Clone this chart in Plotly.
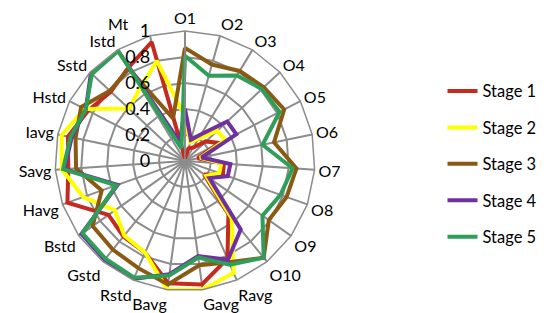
import plotly.graph_objects as go

# feature axes of the radar (clockwise from the top)
categories = ["O1", "O2", "O3", "O4", "O5", "O6", "O7", "O8", "O9", "O10",
              "Ravg", "Gavg", "Bavg", "Rstd", "Gstd", "Bstd",
              "Havg", "Savg", "Iavg", "Hstd", "Sstd", "Istd", "Mt"]

stage1 = [0.02, 0.10, 0.12, 0.22, 0.30, 0.10, 0.30, 0.31, 0.18, 0.53,
          0.82, 0.96, 0.95, 0.77, 0.75, 0.72,
          0.96, 0.90, 0.92, 0.84, 0.78, 0.84, 0.95]
stage2 = [0.34, 0.15, 0.20, 0.34, 0.35, 0.12, 0.28, 0.28, 0.20, 0.57,
          0.94, 1.00, 1.00, 0.77, 0.74, 0.66,
          0.83, 0.95, 0.97, 0.87, 0.59, 0.66, 0.80]
stage3 = [0.87, 0.77, 0.81, 0.83, 0.86, 0.70, 0.86, 0.83, 0.79, 0.96,
          0.85, 0.81, 0.96, 0.90, 0.88, 0.87,
          0.68, 0.84, 0.86, 0.90, 0.79, 0.83, 0.34]
stage4 = [0.40, 0.17, 0.24, 0.445, 0.445, 0.13, 0.35, 0.35, 0.23, 0.68,
          0.83, 0.74, 0.88, 0.99, 0.98, 0.975,
          0.55, 0.93, 0.89, 0.86, 0.99, 1.00, 0.15]
stage5 = [0.81, 0.68, 0.77, 0.81, 0.82, 0.61, 0.83, 0.78, 0.73, 0.96,
          0.87, 0.75, 0.89, 0.98, 0.97, 0.965,
          0.56, 0.94, 0.90, 0.86, 0.98, 0.99, 0.10]

series_names = ["Stage 1", "Stage 2", "Stage 3", "Stage 4", "Stage 5"]
series_values = [stage1, stage2, stage3, stage4, stage5]
colors = ["#C42A1E", "#FFFF00", "#8A5A14", "#7030A0", "#2E9E58"]

fig = go.Figure()
for name, vals, col in zip(series_names, series_values, colors):
    fig.add_trace(go.Scatterpolar(
        r=vals + vals[:1],
        theta=categories + categories[:1],
        mode="lines",
        name=name,
        legendgroup=name,
        line=dict(color=col, width=4),
    ))

# nudge the "Mt" label away from the radial "1" tick, as in the original
ticktext = [c + "\u00a0" * 5 if c == "Mt" else c for c in categories]

grid = "#8C8C8C"
fig.update_layout(
    width=550, height=313,
    margin=dict(l=0, r=0, t=0, b=0),
    paper_bgcolor="white",
    font=dict(family="Lato, Open Sans, sans-serif", color="black"),
    polar=dict(
        domain=dict(x=[0.0855, 0.558], y=[0.096, 0.927]),
        bgcolor="white",
        gridshape="linear",
        angularaxis=dict(
            rotation=90, direction="clockwise",
            tickmode="array", tickvals=categories, ticktext=ticktext,
            showline=True, linecolor=grid, linewidth=1.5,
            gridcolor=grid, gridwidth=1.5,
            ticks="", tickfont=dict(size=16, color="black"),
        ),
        radialaxis=dict(
            range=[0, 1], dtick=0.2, angle=90, tickangle=90,
            showline=True, linecolor=grid, linewidth=1.5,
            gridcolor=grid, gridwidth=1.5,
            ticks="", tickfont=dict(size=18, color="black"),
            ticksuffix="\u00a0\u00a0\u00a0\u00a0\u00a0\u00a0",
            side="counterclockwise",
        ),
    ),
    legend=dict(
        x=0.79, y=0.79, xanchor="left", yanchor="top",
        font=dict(size=16.5, color="black"),
        tracegroupgap=12,
        bgcolor="rgba(0,0,0,0)",
    ),
)

fig.write_html("out.html")
